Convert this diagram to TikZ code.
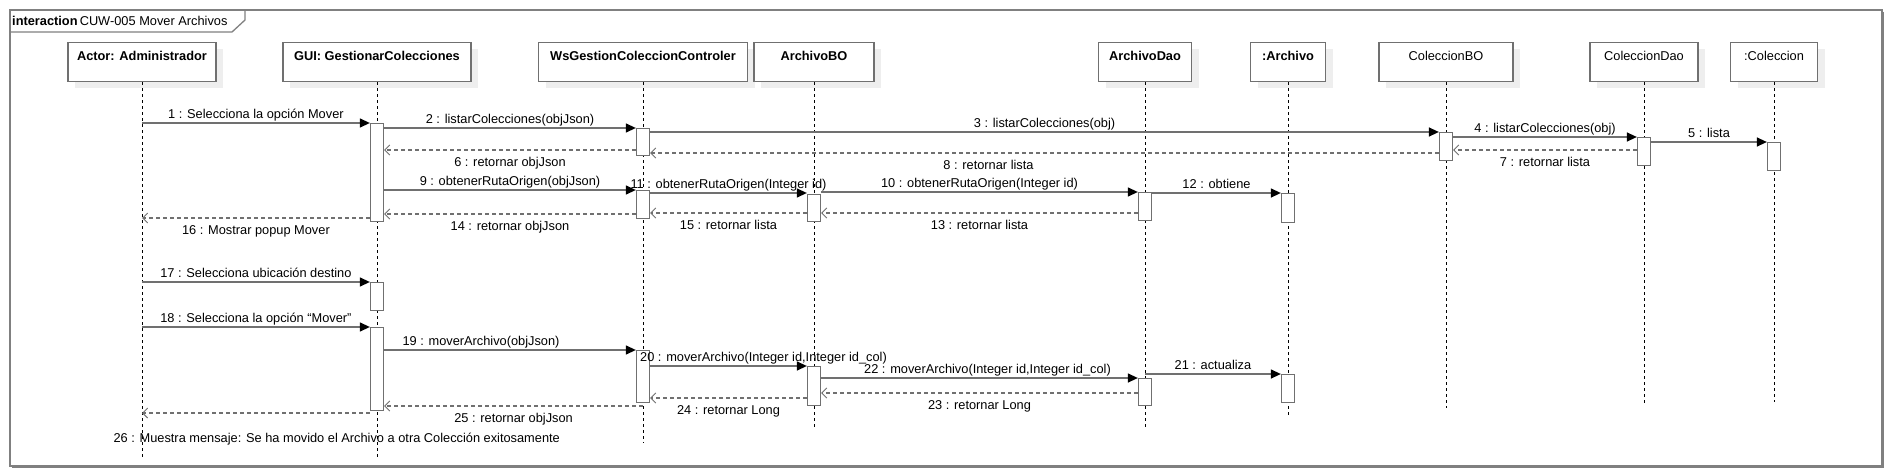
\documentclass[tikz,border=0pt]{standalone}
\usepackage{fontspec}
\setmainfont{Liberation Sans}
\usetikzlibrary{arrows.meta,positioning}
\definecolor{lnGrey}{RGB}{112,112,112}
\definecolor{frGrey}{RGB}{128,128,128}
\definecolor{shGrey}{RGB}{238,238,238}

\tikzset{
  every node/.style={font=\fontsize{12.8}{15}\selectfont},
  frame/.style={draw=frGrey, line width=1.3pt},
  head/.style={draw=lnGrey, line width=1.3pt, fill=white, anchor=north,
    minimum height=39pt, inner xsep=0pt, inner ysep=5pt,
    text height=13pt, text depth=16pt},
  lifeline/.style={draw=black, line width=0.9pt, dash pattern=on 3pt off 3pt},
  bar/.style={draw=lnGrey, line width=1.3pt, fill=white, anchor=north,
    minimum width=13pt, inner sep=0pt},
  call/.style={draw=lnGrey, line width=1.3pt,
    -{Triangle[length=10pt, width=9pt, black]}},
  ret/.style={draw=lnGrey, line width=1.1pt, dash pattern=on 4pt off 3pt,
    -{Straight Barb[length=5pt, width=10pt, line width=0.9pt]}},
  lab above/.style={above, inner sep=1pt, text height=9.5pt, text depth=2.5pt},
  lab below/.style={below, inner sep=0pt, yshift=-6pt, text height=9.5pt, text depth=2.5pt}
}

\begin{document}
\begin{tikzpicture}[x=1pt,y=-1pt]
\useasboundingbox (0,0) rectangle (1892,476);

\draw[frGrey, line width=1.4pt] (1883.5,12) -- (1883.5,467.5) -- (12,467.5);
\draw[frame] (10,10) rectangle (1882,466);
\draw[frame] (10,32) -- (232,32) -- (245,20) -- (245,10);
\node[anchor=base west, inner sep=0pt] (title) at (12,26)
  {\textbf{interaction}\,CUW-005 Mover Archivos};

\foreach \n/\x/\w/\f/\lbl in {
  act/142/148/\bfseries/{Actor: Administrador},
  gui/377/188/\bfseries/{GUI: GestionarColecciones},
  ws/643/209/\bfseries/{WsGestionColeccionControler},
  abo/814/120/\bfseries/{ArchivoBO},
  adao/1145/93/\bfseries/{ArchivoDao},
  arch/1288/75/\bfseries/{:Archivo},
  cbo/1446/134/\mdseries/{ColeccionBO},
  cdao/1644/108/\mdseries/{ColeccionDao},
  col/1774/87/\mdseries/{:Coleccion}}
{
  \fill[shGrey] ({\x-\w/2+7},49) rectangle ({\x+\w/2+7},88);
  \node[head, minimum width=\w pt] (\n) at (\x,42) {\f\lbl};
}

\foreach \n/\e in {act/457,gui/457,ws/443,abo/427,adao/427,arch/415,cbo/408,cdao/403,col/402}
  \draw[lifeline] (\n.south) -- (\n.south |- 0,\e);

\foreach \n/\l/\a/\b in {
  g1/gui/123/221, w1/ws/128/155, cb1/cbo/132/160, cd1/cdao/137/165, c1/col/142/170,
  w2/ws/190/218, ab1/abo/194/221, ad1/adao/192/220, ar1/arch/193/222,
  g2/gui/282/310, g3/gui/327/410, w3/ws/350/402, ab2/abo/366/405,
  ad2/adao/378/405, ar2/arch/374/402}
  \node[bar, minimum height={(\b-\a)*1pt}] (\n) at (\l.south |- 0,\a) {};

\foreach \a/\b/\y/\s/\lbl in {
  act/g1.west/123/0/{1 : Selecciona la opción Mover},
  g1.east/w1.west/128/0/{2 : listarColecciones(objJson)},
  w1.east/cb1.west/132/0/{3 : listarColecciones(obj)},
  cb1.east/cd1.west/137/0/{4 : listarColecciones(obj)},
  cd1.east/c1.west/142/0/{5 : lista},
  g1.east/w2.west/190/0/{9 : obtenerRutaOrigen(objJson)},
  w2.east/ab1.west/193/0/{11 : obtenerRutaOrigen(Integer id)},
  ab1.east/ad1.west/192/0/{10 : obtenerRutaOrigen(Integer id)},
  ad1.east/ar1.west/193/0/{12 : obtiene},
  act/g2.west/282/0/{17 : Selecciona ubicación destino},
  act/g3.west/327/0/{18 : Selecciona la opción “Mover”},
  g3.east/w3.west/350/-29/{19 : moverArchivo(objJson)},
  w3.east/ab2.west/366/35/{20 : moverArchivo(Integer id,Integer id\_col)},
  ab2.east/ad2.west/378/8/{22 : moverArchivo(Integer id,Integer id\_col)},
  adao/ar2.west/374/0/{21 : actualiza}}
  \draw[call] (\a |- 0,\y) -- (\b |- 0,\y) node[midway, lab above, xshift=\s pt] {\lbl};

\foreach \a/\b/\y/\s/\lbl in {
  cd1.west/cb1.east/150/0/{7 : retornar lista},
  cb1.west/w1.east/153/-56/{8 : retornar lista},
  w1.west/g1.east/150/0/{6 : retornar objJson},
  ad1.west/ab1.east/213/0/{13 : retornar lista},
  ab1.west/w2.east/213/0/{15 : retornar lista},
  w2.west/g1.east/214/0/{14 : retornar objJson},
  g1.west/act/218/0/{16 : Mostrar popup Mover},
  ad2.west/ab2.east/393/0/{23 : retornar Long},
  ab2.west/w3.east/398/0/{24 : retornar Long},
  ws/g3.east/406/0/{25 : retornar objJson}}
  \draw[ret] (\a |- 0,\y) -- (\b |- 0,\y) node[midway, lab below, xshift=\s pt] {\lbl};

\draw[ret] (g3.west |- 0,413) -- (act |- 0,413)
  node[pos=1, anchor=north west, inner sep=0pt, text height=9.5pt, text depth=2.5pt,
    xshift=-29pt, yshift=-19pt] {26 : Muestra mensaje: Se ha movido el Archivo a otra Colección exitosamente};

\end{tikzpicture}
\end{document}
